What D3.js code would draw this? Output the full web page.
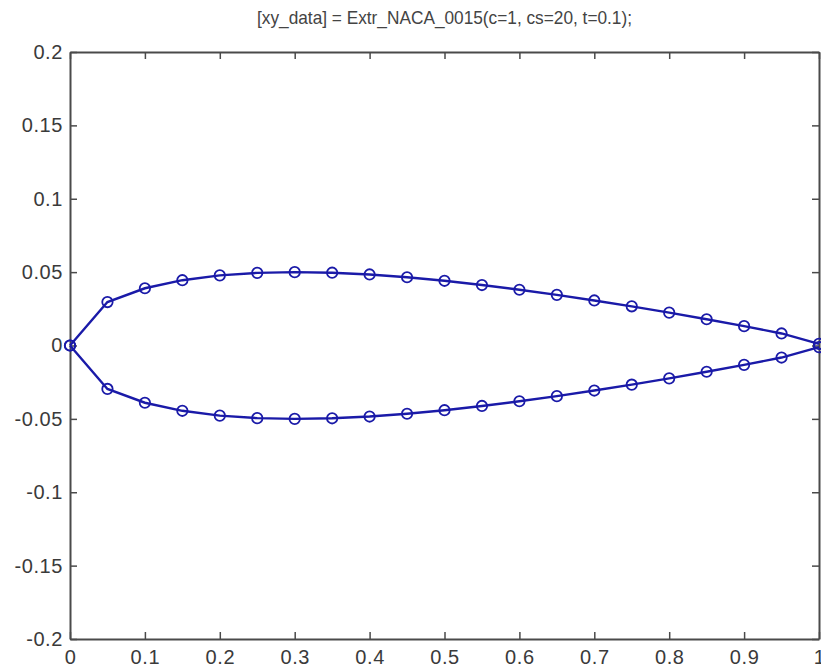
<!DOCTYPE html>
<html>
<head>
<meta charset="utf-8">
<script src="https://cdn.jsdelivr.net/npm/d3@7"></script>
<style>
    body { margin: 0; background: #fff; }
    .axis text { font-family: "Liberation Sans", Arial, sans-serif; font-size: 20px; fill: #3a3a3a; letter-spacing: 0.6px; }
    .axis path, .axis line { stroke: #4a4a4a; }
</style>
</head>
<body>
<div id="chartArea"></div>
<script>
// chord stations (c=1, cs=20)
let xStations = [0, 0.05, 0.1, 0.15, 0.2, 0.25, 0.3, 0.35, 0.4, 0.45, 0.5,
                 0.55, 0.6, 0.65, 0.7, 0.75, 0.8, 0.85, 0.9, 0.95, 1];

// upper surface
let yUpper = [0, 0.0296, 0.0390, 0.0445, 0.0478, 0.0495, 0.0500, 0.0496, 0.0484, 0.0465, 0.0441,
              0.0412, 0.0380, 0.0345, 0.0307, 0.0267, 0.0224, 0.0179, 0.0132, 0.0082, 0.0011];

// lower surface
let yLower = [0, -0.0296, -0.0390, -0.0445, -0.0478, -0.0495, -0.0500, -0.0496, -0.0484, -0.0465, -0.0441,
              -0.0412, -0.0380, -0.0345, -0.0307, -0.0267, -0.0224, -0.0179, -0.0132, -0.0082, -0.0011];

let xTicks = [0, 0.1, 0.2, 0.3, 0.4, 0.5, 0.6, 0.7, 0.8, 0.9, 1];
let yTicks = [-0.2, -0.15, -0.1, -0.05, 0, 0.05, 0.1, 0.15, 0.2];

let titleText = '[xy_data] = Extr_NACA_0015(c=1, cs=20, t=0.1);';

function drawGraph() {
    let margins = { top: 52, right: 2, bottom: 28, left: 70 };
    let svgWidth = 821 - margins.left - margins.right,
        svgHeight = 667 - margins.top - margins.bottom;
    let blue = '#1a1aa8';

    let chart = d3.select('#chartArea')
        .append('svg')
            .attr('width', 821)
            .attr('height', 667)
        .append('g')
            .attr('transform', 'translate(' + margins.left + ',' + margins.top + ')');

    let xScale = d3.scaleLinear().domain([0, 1]).range([0, svgWidth]);
    let yScale = d3.scaleLinear().domain([-0.2, 0.2]).range([svgHeight, 0]);

    // matlab style labels: plain hyphen, no trailing zeros
    let fmt = d => String(+d.toFixed(2));

    // bottom / left axes with inward ticks, mirrored top / right ones
    chart.append('g')
        .attr('class', 'x axis')
        .attr('transform', 'translate(0,' + svgHeight + ')')
        .call(d3.axisBottom(xScale).tickValues(xTicks).tickSize(-7).tickPadding(11).tickSizeOuter(0).tickFormat(fmt));
    chart.append('g')
        .attr('class', 'x axis')
        .call(d3.axisTop(xScale).tickValues(xTicks).tickSize(-7).tickSizeOuter(0).tickFormat(''));
    chart.append('g')
        .attr('class', 'y axis')
        .call(d3.axisLeft(yScale).tickValues(yTicks).tickSize(-7).tickPadding(7).tickSizeOuter(0).tickFormat(fmt));
    chart.append('g')
        .attr('class', 'y axis')
        .attr('transform', 'translate(' + svgWidth + ',0)')
        .call(d3.axisRight(yScale).tickValues(yTicks).tickSize(-7).tickSizeOuter(0).tickFormat(''));

    chart.selectAll('.axis path').attr('stroke-width', 2);
    chart.selectAll('.axis line').attr('stroke-width', 1.5);

    let line = d3.line()
        .x((d, i) => xScale(xStations[i]))
        .y(d => yScale(d));

    [yUpper, yLower].forEach(ys => {
        chart.append('path')
            .attr('d', line(ys))
            .attr('fill', 'none')
            .attr('stroke', blue)
            .attr('stroke-width', 2.4);

        chart.selectAll(null)
            .data(ys)
            .enter().append('circle')
            .attr('r', 5.2)
            .attr('cx', (d, i) => xScale(xStations[i]))
            .attr('cy', d => yScale(d))
            .attr('fill', 'none')
            .attr('stroke', blue)
            .attr('stroke-width', 1.8);
    });

    // title is narrow and tall in the original, so squeeze it to its width
    d3.select('svg').append('text')
        .attr('x', margins.left + svgWidth / 2)
        .attr('y', 24)
        .attr('text-anchor', 'middle')
        .attr('textLength', 375)
        .attr('lengthAdjust', 'spacingAndGlyphs')
        .style('font-family', '"Liberation Sans", Arial, sans-serif')
        .style('font-size', '18.5px')
        .style('fill', '#444')
        .text(titleText);
}

drawGraph();
</script>
</body>
</html>
